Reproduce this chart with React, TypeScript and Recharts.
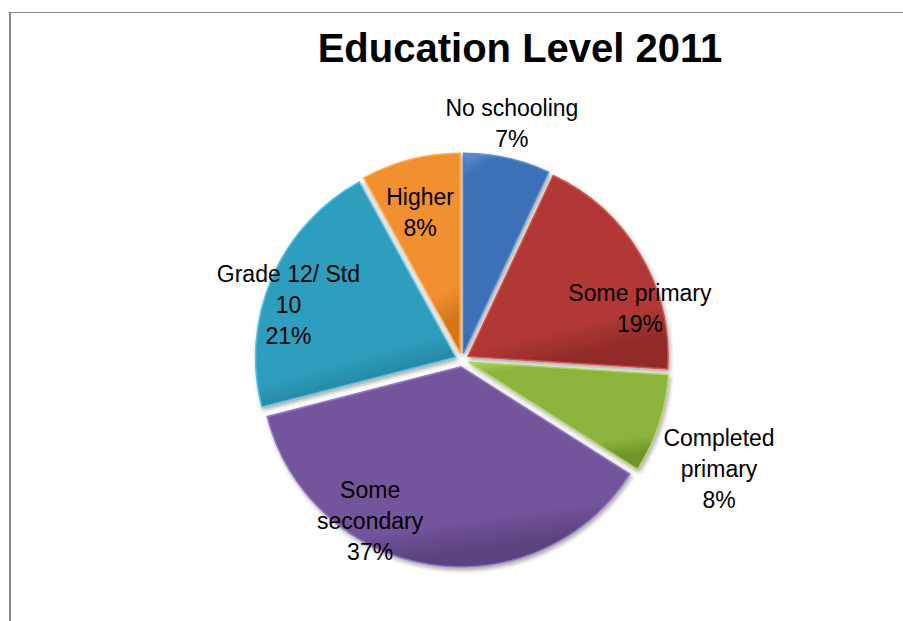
import React from 'react';
import { PieChart, Pie, Cell, Sector } from 'recharts';

const categories = ['No schooling', 'Some primary', 'Completed primary', 'Some secondary', 'Grade 12/ Std 10', 'Higher'];
const values = [7, 19, 8, 37, 21, 8];
const labelLines = [['No schooling'], ['Some primary'], ['Completed', 'primary'], ['Some', 'secondary'], ['Grade 12/ Std', '10'], ['Higher']];
const colors = ['#3c71b7', '#b23935', '#8cb43e', '#72549b', '#2f9ebe', '#f28f2e'];
const lightColors = ['#5d92d8', '#d2524d', '#acd45a', '#9376bd', '#52c2df', '#ffad55'];
const darkColors = ['#2f5e9c', '#932c29', '#71952a', '#5b437f', '#23829e', '#d27619'];
const title = 'Education Level 2011';

// label placement styling: radius factor and clockwise angle nudge (deg)
const labelRadius = [1.21, 0.926, 1.396, 0.927, 0.91, 0.765];
const labelNudge = [-0.7, 14.5, 5, 20.7, -5.9, -1.5];

const data = categories.map((name, i) => ({ name, value: values[i] }));
const total = values.reduce((a, b) => a + b, 0);

const RAD = Math.PI / 180;
const EXPLODE = 7;

const renderShape = (props: any) => {
  const { cx, cy, midAngle, index } = props;
  const dx = EXPLODE * Math.cos(midAngle * RAD);
  const dy = -EXPLODE * Math.sin(midAngle * RAD);
  return (
    <g filter="url(#sliceShadow)">
      <Sector {...props} cx={cx + dx} cy={cy + dy} fill={`url(#grad${index})`} stroke={lightColors[index]} strokeWidth={1.5} />
    </g>
  );
};

const renderLabel = (props: any) => {
  const { cx, cy, midAngle, outerRadius, index, value } = props;
  const ang = (midAngle - labelNudge[index]) * RAD;
  const R = outerRadius * labelRadius[index];
  const x = cx + R * Math.cos(ang);
  const y = cy - R * Math.sin(ang);
  const lines = [...labelLines[index], `${Math.round((value / total) * 100)}%`];
  const lh = 31;
  return (
    <text
      key={`lbl${index}`}
      x={x}
      y={y}
      textAnchor="middle"
      fontFamily="'Liberation Sans', Arial, sans-serif"
      fontSize={23}
      fill="#000"
    >
      {lines.map((ln, i) => (
        <tspan key={i} x={x} y={y + (i - (lines.length - 1) / 2) * lh} dominantBaseline="central">
          {ln}
        </tspan>
      ))}
    </text>
  );
};

export default function App() {
  return (
    <div style={{ position: 'fixed', left: 0, top: 0, width: 903, height: 621, overflow: 'hidden', background: '#fff' }}>
      <svg width={0} height={0} style={{ position: 'absolute' }}>
        <defs>
          {colors.map((c, i) => (
            <linearGradient key={i} id={`grad${i}`} x1="0" y1="0" x2="0.25" y2="1">
              <stop offset="0%" stopColor={lightColors[i]} />
              <stop offset="12%" stopColor={c} />
              <stop offset="85%" stopColor={c} />
              <stop offset="100%" stopColor={darkColors[i]} />
            </linearGradient>
          ))}
          <filter id="sliceShadow" x="-20%" y="-20%" width="140%" height="140%">
            <feDropShadow dx="1.5" dy="2.5" stdDeviation="2" floodColor="#000" floodOpacity="0.35" />
          </filter>
        </defs>
      </svg>
      <div
        style={{
          position: 'absolute',
          left: 9,
          top: 12,
          width: 1000,
          height: 1000,
          borderTop: '1.5px solid #8a8a8a',
          borderLeft: '2px solid #8a8a8a',
        }}
      />
      <div style={{ position: 'absolute', left: 0, top: 0 }}>
        <PieChart width={903} height={621} margin={{ top: 0, right: 0, bottom: 0, left: 0 }}>
          <Pie
            data={data}
            dataKey="value"
            nameKey="name"
            cx={462}
            cy={360}
            outerRadius={200}
            startAngle={90}
            endAngle={-270}
            isAnimationActive={false}
            shape={renderShape}
            label={renderLabel}
            labelLine={false}
          >
            {data.map((d, i) => (
              <Cell key={d.name} fill={colors[i]} />
            ))}
          </Pie>
        </PieChart>
      </div>
      <svg width={903} height={100} style={{ position: 'absolute', left: 0, top: 0 }}>
        <text x={520} y={62} textAnchor="middle" fontFamily="'Liberation Sans', Arial, sans-serif" fontWeight="bold" fontSize={40} fill="#000">
          {title}
        </text>
      </svg>
    </div>
  );
}
